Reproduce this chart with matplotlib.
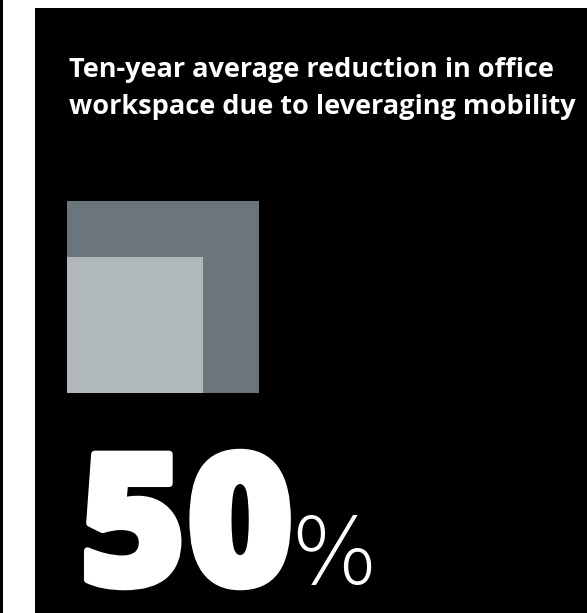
import numpy as np
import matplotlib.pyplot as plt
from matplotlib.patches import Rectangle
import matplotlib.patheffects as pe

title_lines = ["Ten-year average reduction in office",
               "workspace due to leveraging mobility"]
reduction_pct = 50          # inner square area as share of the outer one
value_label = "50"
unit_label = "%"

W, H = 587, 613
fig = plt.figure(figsize=(W / 100, H / 100), dpi=100)
fig.patch.set_facecolor("white")
ax = fig.add_axes([0, 0, 1, 1])
ax.set_xlim(0, W)
ax.set_ylim(H, 0)
ax.axis("off")

# background panels
ax.add_patch(Rectangle((0, 0), 3, H, color="black", lw=0))
ax.add_patch(Rectangle((35, 8), W - 35, H - 8, color="black", lw=0))

# squares: inner square area = reduction share of outer square
outer = 192
inner = outer * np.sqrt(reduction_pct / 100)
x0, y_bottom = 67, 392.5
ax.add_patch(Rectangle((x0, y_bottom - outer), outer, outer, color="#6b767c", lw=0))
ax.add_patch(Rectangle((x0, y_bottom - inner), inner, inner, color="#b1b8bb", lw=0))

for i, line in enumerate(title_lines):
    ax.text(69, 77 + 36.5 * i, line, color="white", fontsize=19.5, fontweight="bold",
            family="Open Sans", va="baseline", ha="left")

ax.text(79, 585, value_label, color="white", fontsize=132, fontweight=800,
        family="Open Sans", va="baseline", ha="left",
        path_effects=[pe.withStroke(linewidth=5, foreground="white")])
ax.text(290, 584, unit_label, color="white", fontsize=66, fontweight=200,
        family="DejaVu Sans", va="baseline", ha="left")

fig.savefig("out.png", dpi=100, facecolor=fig.get_facecolor())
